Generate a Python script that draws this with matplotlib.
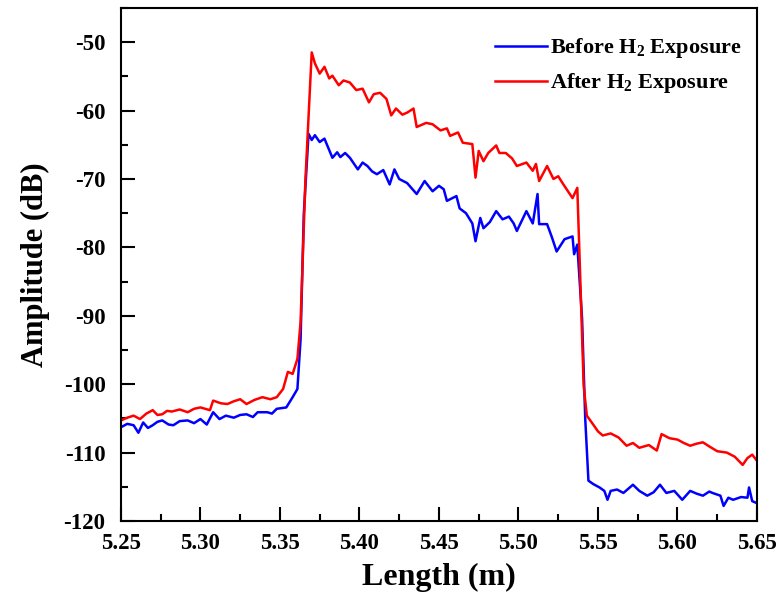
import numpy as np
import matplotlib
matplotlib.use('Agg')
import matplotlib.pyplot as plt
from matplotlib.ticker import MultipleLocator, FormatStrFormatter

# ----------------------------------------------------------
#   DATA
# ----------------------------------------------------------

x_before = [5.250, 5.254, 5.258, 5.261, 5.264, 5.267, 5.270, 5.273, 5.276, 5.280,
            5.283, 5.287, 5.292, 5.296, 5.300, 5.304, 5.308, 5.312, 5.316, 5.321,
            5.325, 5.329, 5.333, 5.336, 5.342, 5.345, 5.348, 5.354, 5.358, 5.361,
            5.363, 5.365, 5.368, 5.370, 5.372, 5.375, 5.378, 5.383, 5.386, 5.388,
            5.391, 5.394, 5.399, 5.402, 5.405, 5.408, 5.411, 5.415, 5.419, 5.422,
            5.425, 5.430, 5.436, 5.441, 5.446, 5.450, 5.453, 5.455, 5.461, 5.463,
            5.467, 5.471, 5.473, 5.476, 5.478, 5.482, 5.486, 5.490, 5.494, 5.497,
            5.499, 5.505, 5.509, 5.512, 5.513, 5.518, 5.521, 5.524, 5.529, 5.534,
            5.535, 5.537, 5.540, 5.542, 5.544, 5.547, 5.551, 5.554, 5.556, 5.558,
            5.562, 5.566, 5.569, 5.572, 5.576, 5.581, 5.585, 5.589, 5.593, 5.598,
            5.603, 5.608, 5.612, 5.616, 5.620, 5.622, 5.627, 5.629, 5.632, 5.635,
            5.640, 5.644, 5.645, 5.647, 5.650]
y_before = [-106.3, -105.8, -106.0, -107.1, -105.6, -106.4, -106.0, -105.5, -105.3, -105.9,
            -106.0, -105.4, -105.3, -105.7, -105.1, -105.9, -104.1, -105.1, -104.6, -104.9,
            -104.5, -104.4, -104.8, -104.1, -104.1, -104.3, -103.6, -103.4, -101.9, -100.7,
            -93.4, -75.2, -63.4, -64.3, -63.6, -64.6, -64.1, -66.9, -66.1, -66.8,
            -66.2, -66.9, -68.6, -67.6, -68.1, -68.9, -69.3, -68.7, -70.8, -68.6,
            -70.0, -70.6, -72.2, -70.3, -71.8, -71.0, -71.5, -73.2, -72.5, -74.3,
            -75.0, -76.5, -79.1, -75.7, -77.2, -76.3, -74.7, -75.9, -75.5, -76.5,
            -77.6, -74.7, -76.5, -72.2, -76.6, -76.6, -78.5, -80.6, -78.8, -78.4,
            -81.0, -79.6, -90.4, -105.1, -114.1, -114.6, -115.1, -115.6, -116.9, -115.6,
            -115.4, -115.9, -115.3, -114.7, -115.6, -116.3, -115.8, -114.7, -115.9, -115.6,
            -116.9, -115.6, -116.0, -116.3, -115.7, -115.9, -116.3, -117.8, -116.6, -116.9,
            -116.5, -116.6, -115.1, -117.1, -117.4]

x_after = [5.250, 5.254, 5.258, 5.262, 5.266, 5.270, 5.273, 5.276, 5.279, 5.282,
           5.287, 5.292, 5.296, 5.300, 5.306, 5.308, 5.313, 5.317, 5.321, 5.325,
           5.329, 5.334, 5.339, 5.344, 5.348, 5.352, 5.355, 5.358, 5.361, 5.363,
           5.366, 5.370, 5.372, 5.375, 5.378, 5.381, 5.383, 5.387, 5.390, 5.394,
           5.398, 5.402, 5.406, 5.409, 5.413, 5.417, 5.420, 5.423, 5.427, 5.430,
           5.434, 5.436, 5.442, 5.446, 5.451, 5.455, 5.457, 5.462, 5.465, 5.471,
           5.473, 5.475, 5.478, 5.481, 5.486, 5.488, 5.492, 5.496, 5.499, 5.505,
           5.509, 5.511, 5.513, 5.518, 5.522, 5.525, 5.528, 5.534, 5.537, 5.539,
           5.541, 5.543, 5.547, 5.550, 5.553, 5.558, 5.563, 5.568, 5.572, 5.576,
           5.582, 5.587, 5.590, 5.595, 5.600, 5.604, 5.608, 5.612, 5.616, 5.620,
           5.625, 5.631, 5.636, 5.641, 5.644, 5.647, 5.650]
y_after = [-105.3, -104.9, -104.6, -105.1, -104.3, -103.8, -104.5, -104.4, -103.9, -104.0,
           -103.7, -104.1, -103.6, -103.4, -103.8, -102.4, -102.8, -102.9, -102.5, -102.2,
           -102.9, -102.3, -101.9, -102.2, -101.9, -100.7, -98.2, -98.5, -96.3, -90.9,
           -70.3, -51.5, -53.1, -54.6, -53.6, -55.3, -54.9, -56.3, -55.6, -55.9,
           -57.0, -56.8, -58.8, -57.6, -57.4, -58.3, -60.7, -59.7, -60.6, -60.3,
           -59.7, -62.4, -61.8, -62.0, -62.9, -62.6, -63.7, -63.2, -64.7, -64.9,
           -69.8, -65.9, -67.4, -66.2, -65.1, -66.2, -66.2, -67.0, -68.1, -67.6,
           -68.8, -67.8, -70.3, -68.1, -70.0, -69.6, -70.7, -72.8, -71.3, -85.5,
           -100.2, -104.6, -105.9, -106.9, -107.5, -107.2, -107.8, -109.0, -108.6, -109.3,
           -108.9, -109.7, -107.3, -107.9, -108.1, -108.6, -109.0, -108.7, -108.5, -109.1,
           -109.8, -110.0, -110.6, -111.8, -110.8, -110.3, -111.2]

x_ticks = [5.25, 5.30, 5.35, 5.40, 5.45, 5.50, 5.55, 5.60, 5.65]
y_ticks = [-120, -110, -100, -90, -80, -70, -60, -50]

# ----------------------------------------------------------
#   GRAPH CONFIGURATIONS
# ----------------------------------------------------------

plt.rcParams['font.family'] = 'Liberation Serif'
plt.rcParams['font.weight'] = 'bold'
plt.rcParams['axes.unicode_minus'] = False
plt.rcParams['mathtext.fontset'] = 'custom'
plt.rcParams['mathtext.rm'] = 'Liberation Serif:bold'
plt.rcParams['mathtext.bf'] = 'Liberation Serif:bold'
plt.rcParams['mathtext.default'] = 'bf'

fig = plt.figure(figsize=(7.8, 5.95), dpi=100)
ax = fig.add_axes([0.155, 0.1244, 0.8155, 0.8622])

ax.plot(x_before, y_before, color='#0000FF', lw=1.8, label='Before H$_2$ Exposure')
ax.plot(x_after, y_after, color='#FF0000', lw=1.8, label='After H$_2$ Exposure')

ax.set_xlim(5.25, 5.65)
ax.set_ylim(-120, -45)
ax.set_xticks(x_ticks)
ax.set_yticks(y_ticks)
ax.xaxis.set_major_formatter(FormatStrFormatter('%.2f'))
ax.xaxis.set_minor_locator(MultipleLocator(0.025))
ax.yaxis.set_minor_locator(MultipleLocator(5))
ax.tick_params(which='major', direction='in', length=10, width=1.5,
               labelsize=16.5, top=False, right=False)
ax.tick_params(which='minor', direction='in', length=5, width=1.5,
               top=False, right=False)
ax.tick_params(axis='x', pad=9)
ax.tick_params(axis='y', pad=11)
for lab in ax.get_xticklabels() + ax.get_yticklabels():
    lab.set_fontweight('bold')
for s in ax.spines.values():
    s.set_linewidth(1.5)

ax.set_xlabel('Length (m)', fontsize=23, fontweight='bold', labelpad=6)
ax.set_ylabel('Amplitude (dB)', fontsize=22, fontweight='bold', labelpad=10)

ax.legend(loc='upper right', bbox_to_anchor=(1.0, 0.975), frameon=False,
          fontsize=16, handlelength=2.3, handletextpad=0.15, labelspacing=0.5,
          borderaxespad=0.5, borderpad=0.2)

fig.savefig('out.png', dpi=100)
